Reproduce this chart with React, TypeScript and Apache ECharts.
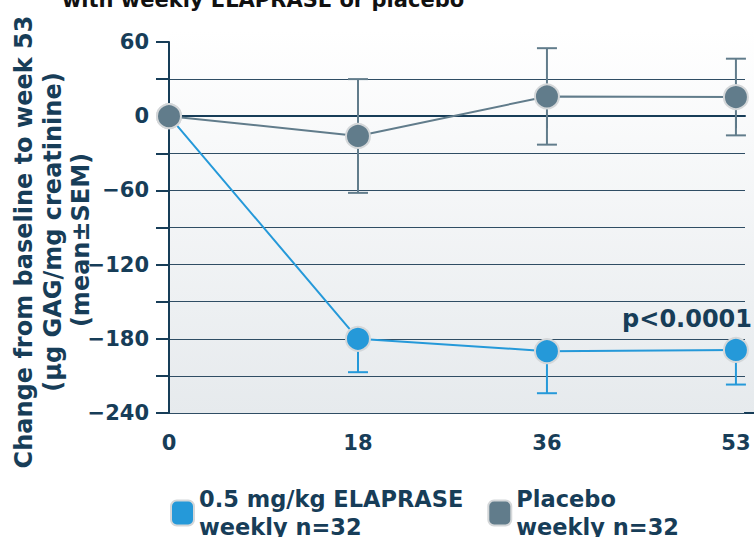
import React, { useEffect, useRef } from "react";
import * as echarts from "echarts";

const weeks = ["0", "18", "36", "53"];
const elapraseMean = [0, -180, -190, -189];
const elapraseSem = [0, 27, 34, 28];
const placeboMean = [0, -16, 16, 15.5];
const placeboSem = [0, 46, 39, 31];
const yTicks = [-240, -180, -120, -60, 0, 60];

const NAVY = "#173d58";
const BLUE = "#2599d9";
const GRAY = "#617c8b";
const FONT = "DejaVu Sans";

export default function App() {
  const ref = useRef<HTMLDivElement>(null);
  useEffect(() => {
    const chart = echarts.init(ref.current!, null, { renderer: "svg" });
    const idx = weeks.map((_, i) => i);
    const blueName = "0.5 mg/kg ELAPRASE\nweekly n=32";
    const grayName = "Placebo\nweekly n=32";

    const errItem = (color: string) => (params: any, api: any) => {
      const x = api.value(0);
      const lo = api.coord([x, api.value(1)]);
      const hi = api.coord([x, api.value(2)]);
      const half = 10;
      const style = { stroke: color, lineWidth: 2 };
      const children: any[] = [
        { type: "line", shape: { x1: lo[0], y1: lo[1], x2: hi[0], y2: hi[1] }, style },
        { type: "line", shape: { x1: lo[0] - half, y1: lo[1], x2: lo[0] + half, y2: lo[1] }, style },
      ];
      if (api.value(3) === 1) {
        children.push({ type: "line", shape: { x1: hi[0] - half, y1: hi[1], x2: hi[0] + half, y2: hi[1] }, style });
      }
      return { type: "group", children };
    };

    chart.setOption({
      animation: false,
      grid: { left: 169, right: 9, top: 42, bottom: 124 },
      xAxis: {
        type: "value",
        min: 0,
        max: 3.048,
        interval: 1,
        axisLine: { show: true, lineStyle: { color: NAVY, width: 2 } },
        axisTick: { show: true, length: 12, customValues: idx, lineStyle: { color: NAVY, width: 2 } },
        axisLabel: {
          customValues: idx,
          formatter: (v: number) => weeks[Math.round(v)] ?? "",
          color: NAVY,
          fontFamily: FONT,
          fontWeight: "bold",
          fontSize: 21,
          margin: 19,
        },
        splitLine: { show: false },
      },
      yAxis: {
        type: "value",
        min: -240,
        max: 60,
        interval: 30,
        axisLine: { show: true, lineStyle: { color: NAVY, width: 2 } },
        axisTick: { show: true, length: 13, lineStyle: { color: NAVY, width: 2 } },
        axisLabel: {
          formatter: (v: number) =>
            yTicks.includes(v) ? (v < 0 ? "\u2212" + Math.abs(v) : String(v)) : "",
          color: NAVY,
          fontFamily: FONT,
          fontWeight: "bold",
          fontSize: 21,
          margin: 20,
        },
        splitLine: {
          show: true,
          showMaxLine: false,
          lineStyle: { color: "#2f4d64", width: 1 },
        },
      },
      legend: {
        data: [
          { name: blueName, itemStyle: { color: BLUE } },
          { name: grayName, itemStyle: { color: GRAY } },
        ],
        icon: "roundRect",
        left: 170,
        top: 485,
        padding: 0,
        itemWidth: 23,
        itemHeight: 25,
        itemGap: 24,
        textStyle: { color: NAVY, fontFamily: FONT, fontWeight: "bold", fontSize: 22.5, lineHeight: 28 },
      },
      graphic: [
        {
          type: "rect",
          z: -10,
          silent: true,
          shape: { x: 169, y: 30, width: 585, height: 383 },
          style: {
            fill: new echarts.graphic.LinearGradient(0, 0, 0, 1, [
              { offset: 0, color: "#ffffff" },
              { offset: 1, color: "#e6eaed" },
            ]),
          },
        },
        {
          type: "line",
          shape: { x1: 744, y1: 413, x2: 754, y2: 413 },
          style: { stroke: NAVY, lineWidth: 2 },
        },
        {
          type: "text",
          x: 263,
          y: 0,
          style: {
            text: "with weekly ELAPRASE or placebo",
            fill: "#111111",
            font: `bold 21px "${FONT}"`,
            align: "center",
            verticalAlign: "middle",
          },
        },
        {
          type: "text",
          x: 752,
          y: 319,
          style: {
            text: "p<0.0001",
            fill: NAVY,
            font: `bold 24px "${FONT}"`,
            align: "right",
            verticalAlign: "middle",
          },
        },
        {
          type: "text",
          x: 24,
          y: 242,
          rotation: Math.PI / 2,
          style: {
            text: "Change from baseline to week 53",
            fill: NAVY,
            font: `bold 24px "${FONT}"`,
            align: "center",
            verticalAlign: "middle",
          },
        },
        {
          type: "text",
          x: 53,
          y: 232,
          rotation: Math.PI / 2,
          style: {
            text: "(\u00b5g GAG/mg creatinine)",
            fill: NAVY,
            font: `bold 24px "${FONT}"`,
            align: "center",
            verticalAlign: "middle",
          },
        },
        {
          type: "text",
          x: 81,
          y: 240,
          rotation: Math.PI / 2,
          style: {
            text: "(mean\u00b1SEM)",
            fill: NAVY,
            font: `bold 24px "${FONT}"`,
            align: "center",
            verticalAlign: "middle",
          },
        },
      ],
      series: [
        {
          type: "custom",
          name: "elaErr",
          z: 1,
          renderItem: errItem(BLUE),
          data: idx.filter((i) => elapraseSem[i] > 0).map((i) => [i, elapraseMean[i] - elapraseSem[i], elapraseMean[i], 0]),
          silent: true,
        },
        {
          type: "custom",
          name: "plaErr",
          z: 1,
          renderItem: errItem(GRAY),
          data: idx.filter((i) => placeboSem[i] > 0).map((i) => [i, placeboMean[i] - placeboSem[i], placeboMean[i] + placeboSem[i], 1]),
          silent: true,
        },
        {
          type: "line",
          name: blueName,
          z: 2,
          data: idx.map((i) => [i, elapraseMean[i]]),
          symbol: "circle",
          symbolSize: 24,
          lineStyle: { color: BLUE, width: 2 },
          itemStyle: { color: BLUE, borderColor: "#d4d7d9", borderWidth: 2 },
        },
        {
          type: "line",
          name: grayName,
          z: 3,
          data: idx.map((i) => [i, placeboMean[i]]),
          symbol: "circle",
          symbolSize: 24,
          lineStyle: { color: GRAY, width: 2 },
          itemStyle: { color: GRAY, borderColor: "#d4d7d9", borderWidth: 2 },
        },
      ],
    });
    return () => chart.dispose();
  }, []);
  return <div ref={ref} style={{ width: 754, height: 537, position: "absolute", left: 0, top: 0 }} />;
}
